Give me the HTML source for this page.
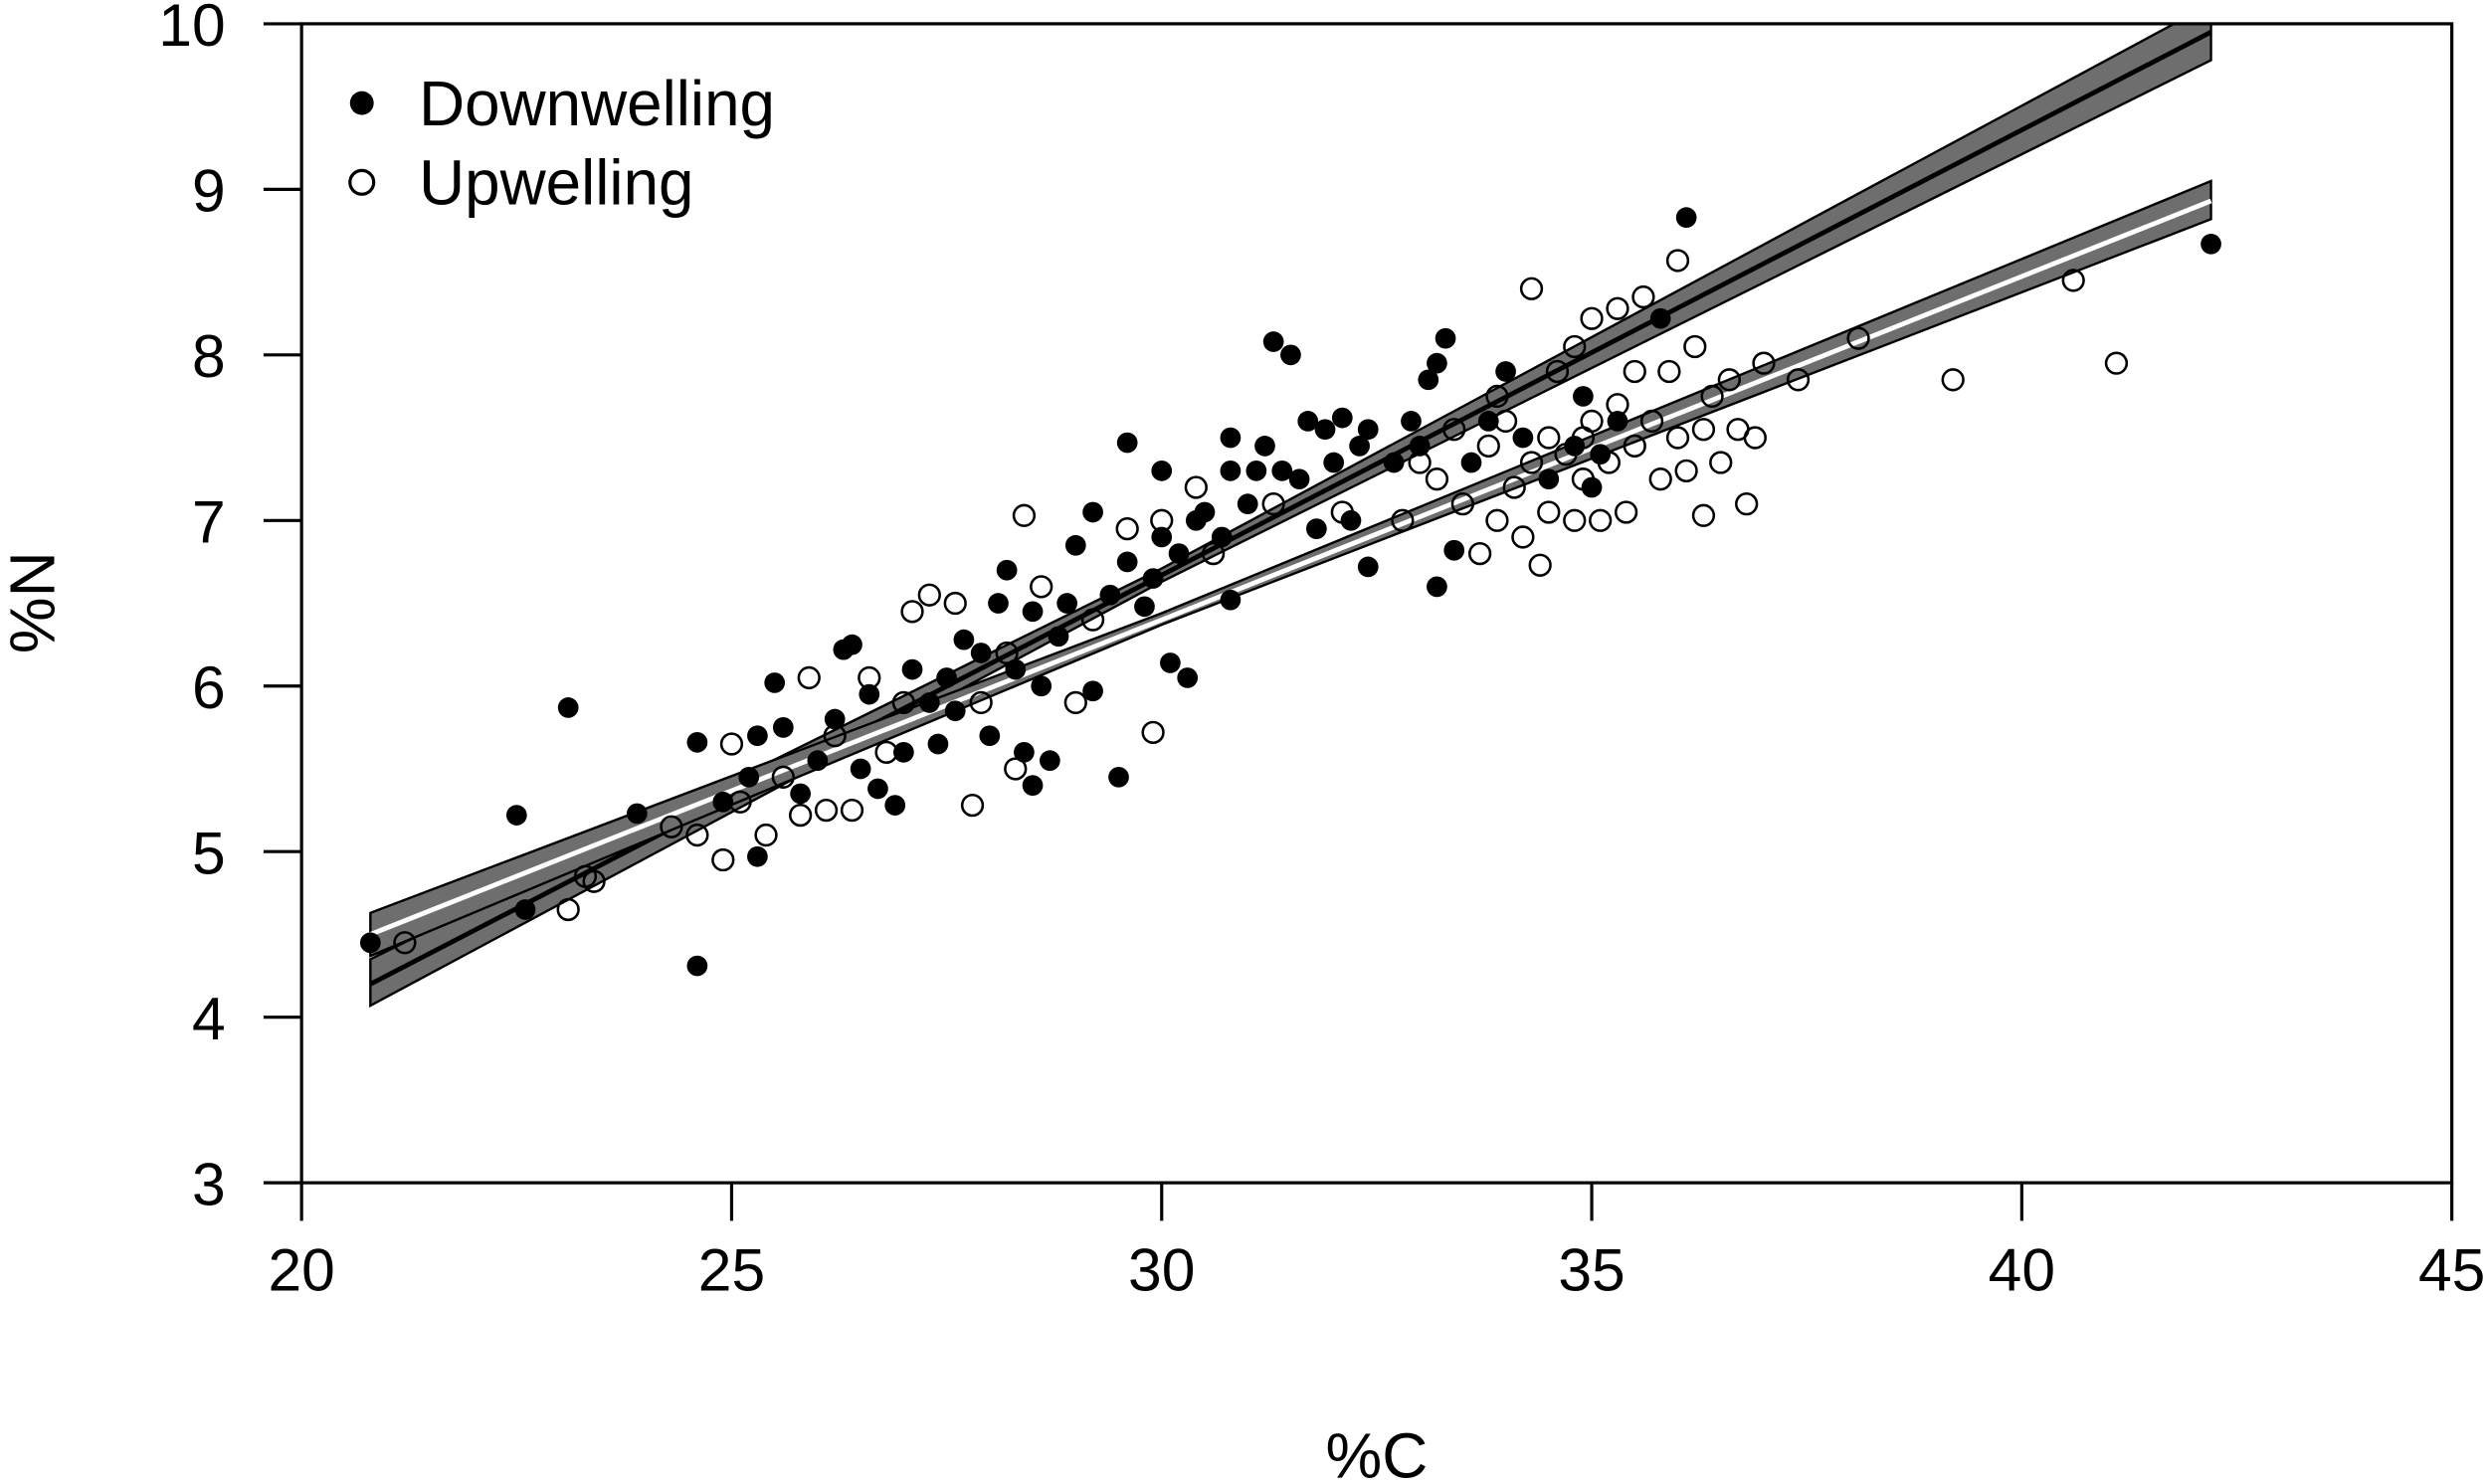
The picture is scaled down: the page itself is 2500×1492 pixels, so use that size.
<!DOCTYPE html>
<html><head><meta charset="utf-8">
<style>html,body{margin:0;padding:0;background:#fff}svg{display:block}text{font-family:"Liberation Sans",sans-serif;fill:#000}</style>
</head><body>
<svg id="chart" width="2500" height="1492" viewBox="0 0 1568 936" xmlns="http://www.w3.org/2000/svg">
<defs><clipPath id="clip"><rect x="190" y="15" width="1356" height="731"/></clipPath></defs>
<g id="bands" clip-path="url(#clip)"></g>
<g id="points" clip-path="url(#clip)"></g>
<rect x="190" y="15" width="1356" height="731" fill="none" stroke="#000" stroke-width="2"/>
<g id="axes"></g>
<text x="868" y="932" font-size="40" text-anchor="middle">%C</text>
<text transform="translate(34,380) rotate(-90)" font-size="40" text-anchor="middle">%N</text>
<g>
<circle cx="228" cy="65" r="7.5" fill="#000"/>
<text x="264" y="79" font-size="40">Downwelling</text>
<circle cx="228" cy="115" r="7.5" fill="#fff" stroke="#000" stroke-width="2"/>
<text x="264" y="129" font-size="40">Upwelling</text>
</g>
</svg>
<script>
const xTicks=[20,25,30,35,40,45];
const yTicks=[3,4,5,6,7,8,9,10];
const downX=[20.8,22.5,22.6,23.1,23.9,24.6,24.6,25.3,25.5,25.6,25.3,26,26.3,26.4,26.5,26.7,26.9,27,27.1,27.3,27.4,27.5,27.7,27.9,28,28.1,28.2,28.3,28.4,28.5,28.6,28.7,28.8,28.9,29,29.2,29.2,29.4,29.5,29.6,29.6,29.8,29.9,30,30,30.1,30.2,30.3,30.4,30.5,30.7,30.8,30.8,30.8,31,31.1,31.2,31.3,31.4,31.5,31.6,31.7,31.8,31.9,32,32.1,32.2,32.3,32.4,32.4,32.7,32.9,33,33.1,33.2,33.3,33.2,33.4,33.6,33.8,34,34.2,34.5,34.8,34.9,35,35.1,35.3,35.8,36.1,42.2,24.9,25.2,25.8,26.2,26.6,27.6,28.5];
const downY=[4.45,5.22,4.65,5.87,5.23,5.66,4.31,4.97,6.02,5.75,5.7,5.55,6.22,6.25,5.5,5.38,5.28,5.6,6.1,5.9,5.65,6.05,6.28,6.2,5.7,6.5,6.7,6.1,5.6,6.45,6,5.55,6.3,6.5,6.85,7.05,5.97,6.55,5.45,7.47,6.75,6.48,6.65,6.9,7.3,6.14,6.8,6.05,7,7.05,6.9,7.3,7.5,6.52,7.1,7.3,7.45,8.08,7.3,8,7.25,7.6,6.95,7.55,7.35,7.62,7,7.45,7.55,6.72,7.35,7.6,7.45,7.85,7.95,8.1,6.6,6.82,7.35,7.6,7.9,7.5,7.25,7.45,7.75,7.2,7.4,7.6,8.22,8.83,8.67,5.3,5.45,5.35,5.8,5.95,5.85,5.4];
const upX=[21.2,23.1,23.3,23.4,24.3,24.6,24.9,25,25.1,25.4,25.6,25.8,25.9,26.1,26.2,26.4,26.6,26.8,27,27.1,27.3,27.6,27.8,27.9,28.2,28.3,28.4,28.6,29,29.2,29.6,29.9,30,30.4,30.6,31.3,32.1,32.8,33,33.2,33.4,33.5,33.7,33.8,33.9,34,34.1,34.2,34.3,34.3,34.4,34.5,34.6,34.7,34.8,34.8,34.9,35,35,35.1,35.2,35.3,35.3,35.4,35.5,35.6,35.7,35.8,35.9,36,36,36.1,36.2,36.3,36.3,36.4,36.5,36.6,36.7,36.8,36.9,37,37.4,38.1,39.2,40.6,41.1,34.9,35.5,33.9,34.5];
const upY=[4.45,4.65,4.85,4.82,5.15,5.1,4.95,5.65,5.3,5.1,5.45,5.22,6.05,5.25,5.7,5.25,6.05,5.6,5.9,6.45,6.55,6.5,5.28,5.9,6.2,5.5,7.03,6.6,5.9,6.4,6.95,5.72,7,7.2,6.8,7.1,7.05,7,7.35,7.25,7.55,7.1,6.8,7.45,7,7.6,7.2,6.9,8.4,7.35,6.73,7.05,7.9,7.4,8.05,7,7.25,8.22,7.6,7,7.35,8.28,7.7,7.05,7.45,8.35,7.6,7.25,7.9,7.5,8.57,7.3,8.05,7.55,7.03,7.75,7.35,7.85,7.55,7.1,7.5,7.95,7.85,8.1,7.85,8.45,7.95,7.5,7.9,7.75,7.5];
const fitX=[20.8,30,42.2];
const downFit=[4.2,6.67,9.95],downLo=[4.07,6.63,9.78],downHi=[4.35,6.71,10.12];
const upFit=[4.5,6.4,8.93],upLo=[4.37,6.37,8.82],upHi=[4.63,6.44,9.05];

const NS="http://www.w3.org/2000/svg";
const sx=v=>190+(v-20)*(1356/25);
const sy=v=>746-(v-3)*(731/7);
function mk(tag,attrs,parent){const e=document.createElementNS(NS,tag);for(const k in attrs)e.setAttribute(k,attrs[k]);parent.appendChild(e);return e;}
const axes=document.getElementById('axes');
xTicks.forEach(t=>{
  const l=mk('line',{x1:sx(t),x2:sx(t),y1:746,y2:770,stroke:'#000','stroke-width':2},axes);
  
  
  const tx=mk('text',{x:sx(t),y:814,'font-size':38,'text-anchor':'middle'},axes);tx.textContent=t;
  
  
});
yTicks.forEach(t=>{
  const l=mk('line',{x1:166,x2:190,y1:sy(t),y2:sy(t),stroke:'#000','stroke-width':2},axes);
  
  
  const tx=mk('text',{x:142,y:sy(t)+14,'font-size':38,'text-anchor':'end'},axes);tx.textContent=t;
  
  
});
const bands=document.getElementById('bands');
function band(lo,hi,fit,lineColor,name){
  const up=fitX.map((x,i)=>sx(x)+','+sy(hi[i]));
  const dn=fitX.map((x,i)=>sx(x)+','+sy(lo[i])).reverse();
  const p=mk('polygon',{points:up.concat(dn).join(' '),fill:'#6e6e6e',stroke:'#000','stroke-width':1.5},bands);
  
  
  const l=mk('polyline',{points:fitX.map((x,i)=>sx(x)+','+sy(fit[i])).join(' '),fill:'none',stroke:lineColor,'stroke-width':3},bands);
  
  
}
band(downLo,downHi,downFit,'#000','downwelling');
band(upLo,upHi,upFit,'#fff','upwelling');
const pts=document.getElementById('points');
upX.forEach((x,i)=>{
  const c=mk('circle',{cx:sx(x),cy:sy(upY[i]),r:6.5,fill:'none',stroke:'#000','stroke-width':1.6},pts);
  
  
});
downX.forEach((x,i)=>{
  const c=mk('circle',{cx:sx(x),cy:sy(downY[i]),r:6.5,fill:'#000'},pts);
  
  
});
</script>
</body></html>
